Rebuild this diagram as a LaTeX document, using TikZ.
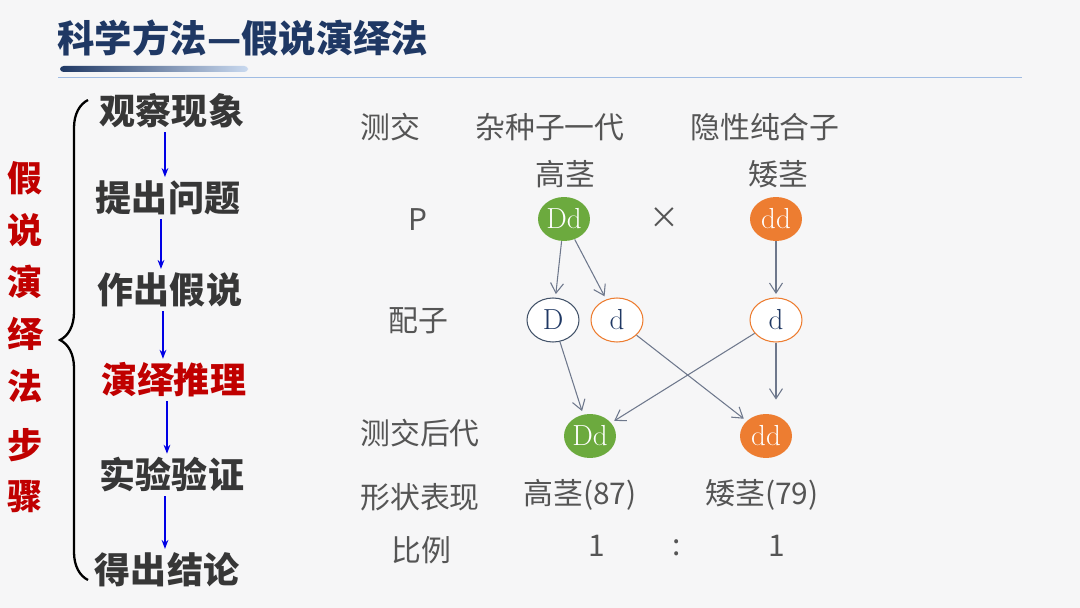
\documentclass[tikz,border=0pt]{standalone}
\usepackage{fontspec}
\usepackage{tikz}
\usetikzlibrary{arrows.meta,positioning,shapes.geometric,decorations.pathreplacing}
\newfontfamily\cjk{Noto Sans CJK SC}
\definecolor{bgc}{RGB}{246,246,247}
\definecolor{tc}{RGB}{31,56,100}
\definecolor{lbc}{RGB}{120,160,215}
\definecolor{sc}{RGB}{55,55,55}
\definecolor{rc}{RGB}{192,0,0}
\definecolor{lc}{RGB}{85,85,85}
\definecolor{gc}{RGB}{108,170,62}
\definecolor{oc}{RGB}{237,125,49}
\definecolor{slc}{RGB}{68,84,106}
\definecolor{ac}{RGB}{110,120,140}
\tikzset{stp/.style={font=\cjk\bfseries\fontsize{20.5}{24}\selectfont,text=sc,inner sep=2pt},
 hl/.style={stp,text=rc},
 vt/.style={font=\cjk\bfseries\fontsize{20}{24}\selectfont,text=rc,inner sep=0pt},
 lab/.style={font=\cjk\fontsize{17}{20}\selectfont,text=lc},
 g/.style={ellipse,fill=gc,text=white,minimum width=1.04cm,minimum height=.88cm,inner sep=0pt,font=\fontsize{16.5}{16}\selectfont},
 o/.style={g,fill=oc},
 gam/.style={g,fill=white,draw=slc,line width=.6pt,text=tc},
 gamo/.style={gam,draw=oc},
 arr/.style={-{Straight Barb[length=2mm,width=2.6mm]},draw=ac,line width=.6pt,shorten >=2pt},
 barr/.style={-{Stealth[length=1.8mm]},draw=blue!90!black,line width=.8pt}}
\begin{document}
\begin{tikzpicture}[x=0.02cm,y=-0.02cm]
\fill[bgc] (0,0) rectangle (1080,608);
\useasboundingbox (0,0) rectangle (1080,608);
% title
\node[anchor=west,inner sep=0pt,font=\cjk\bfseries\fontsize{21.3}{24}\selectfont,text=tc] (title) at (57,38) {科学方法—假说演绎法};
\shade[left color=tc,right color=lbc!40,rounded corners=2pt] (60,66) rectangle (248,72);
\draw[lbc!70,line width=.5pt] (58,77) -- (1022,77);
% steps
\foreach \ch [count=\i] in {假,说,演,绎,法}{\node[vt] (v\i) at (25,126+52*\i) {\ch};}
\node[vt] (v6) at (25,445) {步};
\node[vt] (v7) at (25,497) {骤};
\draw[line width=1.3pt,decorate,decoration={brace,amplitude=0.56cm}] (88,580) -- (88,100);
\node[stp] (obs) at (172,111) {观察现象};
\node[stp] (ask) at (168,198) {提出问题};
\node[stp] (hyp) at (170,290) {作出假说};
\node[hl] (ded) at (174,380) {演绎推理};
\node[stp] (exp) at (172,475) {实验验证};
\node[stp] (con) at (167,570) {得出结论};
\foreach \u/\v in {obs/ask,ask/hyp,hyp/ded,ded/exp,exp/con}{\draw[barr] ([xshift=-4pt]\u.south) -- ([xshift=-4pt]\u.south |- \v.north);}
% cross
\node[lab] (tcr) at (390,127) {测交};
\node[lab] (hyb) at (550,127) {杂种子一代};
\node[lab] (rec) at (765,127) {隐性纯合子};
\node[lab] (tall) at (565,174) {高茎};
\node[lab] (dwarf) at (778,174) {矮茎};
\node[lab] (p) at (418,220) {P};
\node[lab] (x) at (664,218) {×};
\node[lab] (gm) at (418,321) {配子};
\node[lab] (off) at (420,433) {测交后代};
\node[lab] (ph) at (420,497) {形状表现};
\node[lab] (rt) at (421,550) {比例};
\node[g] (pDd) at (564,219) {Dd};
\node[o] (pdd) at (776,219) {dd};
\node[gam] (gD) at (553,320) {D};
\node[gamo] (gd) at (617,320) {d};
\node[gamo] (gr) at (776,320) {d};
\node[g] (oDd) at (590,436) {Dd};
\node[o] (odd) at (766,436) {dd};
\foreach \u/\v in {pDd/gD,pDd/gd,pdd/gr,gD/oDd,gr/oDd,gd/odd}{\draw[arr] (\u)--(\v);}
\draw[arr,shorten >=8pt] (gr.south) -- (gr.south |- odd.north);
\node[lab] (nt) at (580,495) {高茎(87)};
\node[lab] (nd) at (762,495) {矮茎(79)};
\node[lab] (n1) at (597,546) {1};
\node[lab] (col) at (677,548) {:};
\node[lab] (n2) at (777,546) {1};
\end{tikzpicture}
\end{document}
